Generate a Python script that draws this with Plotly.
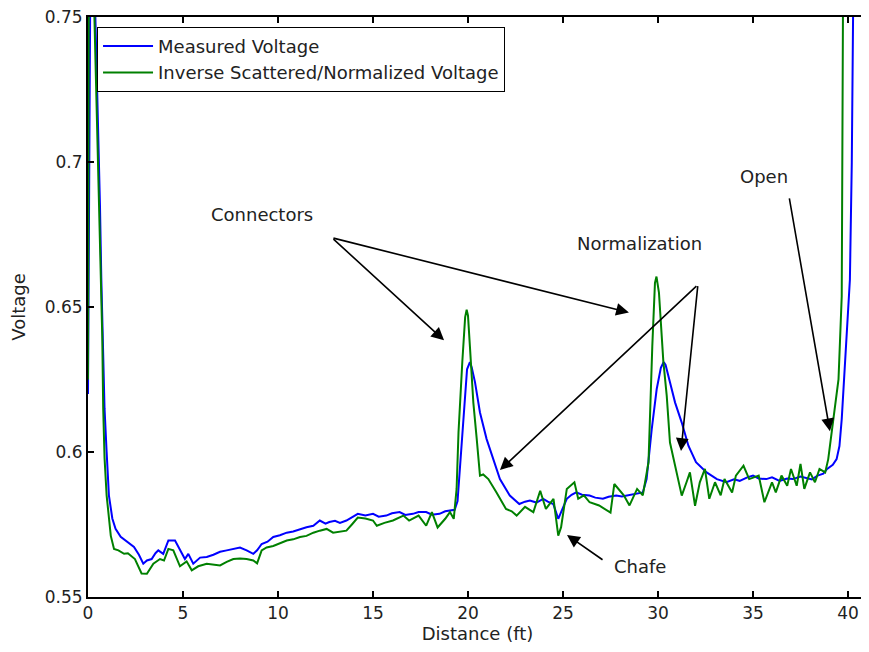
import plotly.graph_objects as go

# Measured Voltage (blue)
blue_x = [0, 0.12, 0.35, 0.45, 0.55, 0.63, 0.7, 0.78, 0.87, 0.98, 1.1, 1.28, 1.45, 1.72, 2.07, 2.42, 2.68,
          2.91, 3.1, 3.35, 3.55, 3.7, 3.96, 4.1, 4.23, 4.58, 4.84, 5.1, 5.28, 5.54, 5.9, 6.25, 6.6, 6.95,
          7.3, 7.65, 8.0, 8.35, 8.7, 8.9, 9.14, 9.45, 9.75, 10.1, 10.46, 10.8, 11.16, 11.5, 11.86, 12.2,
          12.5, 12.7, 13.0, 13.26, 13.6, 13.9, 14.2, 14.6, 15.0, 15.3, 15.7, 16.0, 16.4, 16.7, 17.1, 17.4,
          17.8, 18.1, 18.5, 18.8, 19.05, 19.3, 19.45, 19.55, 19.65, 19.8, 19.95, 20.1, 20.2, 20.37, 20.63,
          20.98, 21.33, 21.68, 22.2, 22.7, 23.0, 23.26, 23.6, 23.96, 24.2, 24.49, 24.75, 24.9, 25.2, 25.45,
          25.7, 26.0, 26.4, 26.7, 27.1, 27.4, 27.8, 28.1, 28.5, 28.8, 29.2, 29.4, 29.67, 29.93, 30.15, 30.3,
          30.4, 30.63, 30.9, 31.25, 31.6, 32.0, 32.56, 33.1, 33.6, 34.0, 34.3, 34.7, 35.0, 35.3, 35.7, 36.0,
          36.4, 36.8, 37.1, 37.5, 37.8, 38.1, 38.4, 38.7, 38.9, 39.2, 39.4, 39.55, 39.67, 39.8, 39.93, 40.1,
          40.2, 40.28]
blue_y = [0.62, 0.76, 0.76, 0.735, 0.71, 0.685, 0.66, 0.64, 0.615, 0.6, 0.585, 0.577, 0.5734, 0.5707, 0.569,
          0.5672, 0.5645, 0.5614, 0.5625, 0.563, 0.565, 0.566, 0.5648, 0.5675, 0.5694, 0.5694, 0.566, 0.563,
          0.5648, 0.5614, 0.5635, 0.5637, 0.5645, 0.5655, 0.566, 0.5665, 0.567, 0.566, 0.5648, 0.566,
          0.5682, 0.569, 0.5706, 0.5712, 0.5721, 0.5725, 0.5734, 0.574, 0.5745, 0.5763, 0.5752, 0.5758,
          0.5762, 0.5755, 0.5763, 0.5775, 0.5786, 0.578, 0.5786, 0.5776, 0.578, 0.5788, 0.5792, 0.5782,
          0.5786, 0.5792, 0.5792, 0.5783, 0.5786, 0.5795, 0.5797, 0.580, 0.583, 0.592, 0.602, 0.616, 0.6285,
          0.631, 0.629, 0.624, 0.6136, 0.6044, 0.5975, 0.5906, 0.5849, 0.582, 0.5828, 0.5832, 0.5825, 0.5838,
          0.5828, 0.582, 0.5769, 0.579, 0.5838, 0.5852, 0.586, 0.5852, 0.5849, 0.5842, 0.5838, 0.5845,
          0.5849, 0.5846, 0.5852, 0.5855, 0.586, 0.5906, 0.6078, 0.6216, 0.629, 0.631, 0.630, 0.624, 0.617,
          0.6101, 0.6021, 0.5964, 0.5929, 0.5906, 0.5895, 0.5905, 0.590, 0.5912, 0.5918, 0.5908, 0.5906,
          0.5912, 0.590, 0.5908, 0.5906, 0.5915, 0.591, 0.5905, 0.5918, 0.5925, 0.5941, 0.5955, 0.5975,
          0.602, 0.6113, 0.625, 0.6423, 0.6595, 0.70, 0.76]

# Inverse Scattered/Normalized Voltage (green)
green_x = [0, 0.04, 0.3, 0.4, 0.5, 0.58, 0.67, 0.75, 0.8, 0.87, 0.98, 1.1, 1.2, 1.37, 1.6, 1.9, 2.1, 2.47,
           2.82, 3.1, 3.44, 3.79, 4.0, 4.23, 4.49, 4.84, 5.19, 5.46, 5.8, 6.25, 6.6, 6.95, 7.3, 7.65, 8.0,
           8.35, 8.7, 8.9, 9.14, 9.4, 9.75, 10.1, 10.46, 10.8, 11.16, 11.5, 11.86, 12.2, 12.56, 12.9, 13.3,
           13.6, 13.9, 14.2, 14.6, 15.0, 15.2, 15.6, 16.05, 16.6, 16.9, 17.4, 17.8, 18.1, 18.4, 18.8, 19.05,
           19.25, 19.4, 19.5, 19.7, 19.85, 19.93, 20.0, 20.1, 20.28, 20.46, 20.63, 20.8, 21.07, 21.5, 22.0,
           22.3, 22.56, 23.0, 23.44, 23.8, 24.1, 24.5, 24.75, 24.9, 25.2, 25.6, 25.8, 26.1, 26.4, 26.9, 27.5,
           27.7, 28.2, 28.5, 28.9, 29.2, 29.5, 29.7, 29.84, 29.92, 30.05, 30.28, 30.46, 30.63, 30.9, 31.25,
           31.5, 31.68, 31.95, 32.2, 32.47, 32.7, 33.0, 33.3, 33.5, 33.9, 34.1, 34.5, 34.8, 35.3, 35.6, 36.0,
           36.2, 36.5, 36.8, 37.0, 37.3, 37.5, 37.7, 38.0, 38.26, 38.5, 38.8, 38.96, 39.23, 39.5, 39.67, 39.74]
green_y = [0.625, 0.76, 0.76, 0.735, 0.705, 0.685, 0.66, 0.64, 0.615, 0.598, 0.585, 0.576, 0.571, 0.5665,
           0.566, 0.5648, 0.565, 0.563, 0.558, 0.5579, 0.5614, 0.563, 0.5625, 0.5665, 0.566, 0.5605, 0.5622,
           0.5591, 0.5605, 0.5614, 0.561, 0.5608, 0.562, 0.563, 0.5632, 0.563, 0.5625, 0.5615, 0.566, 0.567,
           0.5675, 0.5685, 0.5694, 0.5698, 0.5706, 0.571, 0.5721, 0.5728, 0.5734, 0.5721, 0.5725, 0.5728,
           0.575, 0.5773, 0.577, 0.5763, 0.5745, 0.5755, 0.5763, 0.578, 0.5763, 0.578, 0.5745, 0.5792,
           0.5739, 0.5769, 0.5792, 0.5769, 0.5872, 0.6067, 0.631, 0.6465, 0.6491, 0.647, 0.6365, 0.6171,
           0.6044, 0.5918, 0.5922, 0.5906, 0.586, 0.5803, 0.5795, 0.578, 0.581, 0.5792, 0.5866, 0.5803,
           0.5838, 0.5711, 0.574, 0.5872, 0.5895, 0.5838, 0.585, 0.5826, 0.5815, 0.579, 0.5889, 0.585,
           0.5815, 0.5872, 0.585, 0.5964, 0.6365, 0.6583, 0.6605, 0.655, 0.6313, 0.6193, 0.6032, 0.5952,
           0.5849, 0.5895, 0.5929, 0.5814, 0.5895, 0.5941, 0.5838, 0.5895, 0.585, 0.5906, 0.586, 0.5918,
           0.5952, 0.5906, 0.5918, 0.5826, 0.5895, 0.586, 0.5918, 0.5883, 0.5941, 0.5883, 0.5958, 0.5872,
           0.5929, 0.5895, 0.5941, 0.5929, 0.5975, 0.6113, 0.625, 0.6537, 0.76]

x_ticks = [0, 5, 10, 15, 20, 25, 30, 35, 40]
y_ticks = [0.55, 0.6, 0.65, 0.7, 0.75]
y_tick_text = ["0.55", "0.6", "0.65", "0.7", "0.75"]

FONT = "DejaVu Sans"
FS = 18
TICK_FS = 17
TXT = "#222"

fig = go.Figure()
fig.add_trace(go.Scatter(x=blue_x, y=blue_y, mode="lines", name="Measured Voltage",
                         line=dict(color="#0000ff", width=2)))
fig.add_trace(go.Scatter(x=green_x, y=green_y, mode="lines", name="Inverse Scattered/Normalized Voltage",
                         line=dict(color="#008000", width=2)))

arrows = [
    # (head_x, head_y, tail_x, tail_y)
    (18.74, 0.6385, 12.84, 0.6739),
    (28.47, 0.6481, 12.84, 0.6739),
    (21.68, 0.5937, 32.1, 0.6577),
    (31.21, 0.6003, 32.1, 0.6577),
    (39.05, 0.6071, 36.9, 0.688),
    (25.21, 0.5713, 27.16, 0.5624),
]
for hx, hy, tx, ty in arrows:
    fig.add_annotation(x=hx, y=hy, ax=tx, ay=ty, xref="x", yref="y", axref="x", ayref="y",
                       text="", showarrow=True, arrowhead=2, arrowsize=1.6, arrowwidth=1.6,
                       arrowcolor="black")

labels = [("Connectors", 9.16, 0.6818), ("Normalization", 29.05, 0.6719),
          ("Open", 35.58, 0.6949), ("Chafe", 29.05, 0.5603)]
for t, lx, ly in labels:
    fig.add_annotation(x=lx, y=ly, xref="x", yref="y", text=t, showarrow=False,
                       font=dict(family=FONT, size=FS, color=TXT))

axis_common = dict(showgrid=False, zeroline=False, showline=True, linecolor="black", linewidth=2,
                   mirror="ticks", ticks="inside", ticklen=6, tickwidth=1.5, tickcolor="black",
                   automargin=False, ticklabeloverflow="allow",
                   tickfont=dict(family=FONT, size=TICK_FS, color=TXT))

fig.update_layout(
    width=861, height=636,
    margin=dict(l=80, r=2, t=9, b=47),
    paper_bgcolor="white", plot_bgcolor="white",
    font=dict(family=FONT, size=FS, color=TXT),
    xaxis=dict(range=[0, 41], tickvals=x_ticks, title=dict(text="Distance (ft)", standoff=2,
               font=dict(family=FONT, size=FS, color=TXT)), **axis_common),
    yaxis=dict(range=[0.5499, 0.7501], tickvals=y_ticks, ticktext=y_tick_text,
               title=dict(text="Voltage", standoff=14, font=dict(family=FONT, size=FS, color=TXT)),
               **axis_common),
    legend=dict(x=0.0116, y=0.983, xanchor="left", yanchor="top", bgcolor="white",
                bordercolor="black", borderwidth=1, font=dict(family=FONT, size=FS, color=TXT),
                tracegroupgap=0, itemwidth=50),
    showlegend=True,
)

fig.write_html("out.html")
